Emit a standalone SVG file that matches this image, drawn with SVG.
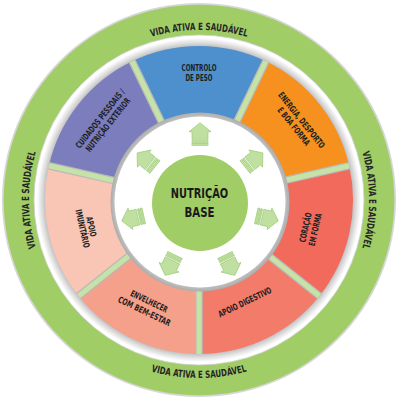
<svg xmlns="http://www.w3.org/2000/svg" xmlns:xlink="http://www.w3.org/1999/xlink" width="400" height="401" viewBox="0 0 400 401">
<style>
.lbl{font-family:'DejaVu Sans Condensed','DejaVu Sans','Liberation Sans',sans-serif;font-stretch:condensed;font-weight:bold;font-size:8.8px;fill:#1e1e1e;text-anchor:middle}
.ring{font-family:'DejaVu Sans Condensed','DejaVu Sans','Liberation Sans',sans-serif;font-stretch:condensed;font-weight:bold;font-size:10px;fill:#262626;text-anchor:middle}
.ctr{font-family:'DejaVu Sans Condensed','DejaVu Sans','Liberation Sans',sans-serif;font-stretch:condensed;font-weight:bold;font-size:13.5px;fill:#1a1a1a;text-anchor:middle}
.sep{stroke:#b9b9b9;stroke-width:7.5;fill:none}
.sepi{stroke:#c6e3a7;stroke-width:5;fill:none}
.arw{fill:#bfe0a0;stroke:#9dca76;stroke-width:0.7}
</style>
<defs>
<radialGradient id="shadowOut" gradientUnits="userSpaceOnUse" cx="199" cy="200" r="162">
<stop offset="0.93" stop-color="#a8a8a8"/>
<stop offset="0.97" stop-color="#dcdcdc"/>
<stop offset="1" stop-color="#ffffff"/>
</radialGradient>
<radialGradient id="shadowIn" gradientUnits="userSpaceOnUse" cx="200" cy="202" r="90">
<stop offset="0.93" stop-color="#c9c9c9"/>
<stop offset="1" stop-color="#a9a9a9"/>
</radialGradient>
<path id="cw" d="M199,370 A170,170 0 1 1 199,30 A170,170 0 1 1 199,370"/>
<path id="ccw" d="M199,22 A178,178 0 1 0 199,378 A178,178 0 1 0 199,22"/>
<g id="arr">
<path class="arw" d="M192,139.3 L192,131.7 L189,131.7 L200,122.7 L211,131.7 L208,131.7 L208,139.3 Z"/>
<rect class="arw" x="192" y="140.7" width="16" height="1.6"/>
<rect class="arw" x="192" y="143.3" width="16" height="2"/>
</g>
</defs>
<rect width="400" height="401" fill="#ffffff"/>
<g id="outer-ring">
<circle cx="199" cy="200" r="197" fill="#d6d6d6"/>
<circle cx="199" cy="200" r="195.3" fill="#a1cd67"/>
<circle cx="199" cy="200" r="165" fill="#ffffff" stroke="#d0d0d0" stroke-width="0.8"/>
<circle cx="199" cy="200" r="162" fill="url(#shadowOut)"/>
<text class="ring"><textPath xlink:href="#cw" href="#cw" startOffset="50%" textLength="97" lengthAdjust="spacingAndGlyphs">VIDA ATIVA E SAUDÁVEL</textPath></text>
<text class="ring"><textPath xlink:href="#cw" href="#cw" startOffset="75%" textLength="97" lengthAdjust="spacingAndGlyphs">VIDA ATIVA E SAUDÁVEL</textPath></text>
<text class="ring"><textPath xlink:href="#cw" href="#cw" startOffset="25%" textLength="97" lengthAdjust="spacingAndGlyphs">VIDA ATIVA E SAUDÁVEL</textPath></text>
<text class="ring"><textPath xlink:href="#ccw" href="#ccw" startOffset="50%" textLength="97" lengthAdjust="spacingAndGlyphs">VIDA ATIVA E SAUDÁVEL</textPath></text>
</g>
<g id="controlo-peso">
<path fill="#4d90cd" d="M164.29,127.92 L132.18,61.25 A154,154 0 0 1 265.82,61.25 L233.71,127.92 A80,80 0 0 0 164.29,127.92 Z"/>
<text class="lbl" x="199" y="70.7" textLength="35" lengthAdjust="spacingAndGlyphs">CONTROLO</text>
<text class="lbl" x="199" y="80.7" textLength="27" lengthAdjust="spacingAndGlyphs">DE PESO</text>
</g>
<g id="energia">
<path fill="#f6901e" d="M233.71,127.92 L265.82,61.25 A154,154 0 0 1 349.13,165.73 L276.99,182.20 A80,80 0 0 0 233.71,127.92 Z"/>
<g transform="rotate(51.43 199 200)">
<text class="lbl" x="200.5" y="73" textLength="69" lengthAdjust="spacingAndGlyphs">ENERGIA, DESPORTO</text>
<text class="lbl" x="200.5" y="83" textLength="46" lengthAdjust="spacingAndGlyphs">E BOA FORMA</text>
</g>
</g>
<g id="coracao">
<path fill="#f26a5c" d="M276.99,182.20 L349.13,165.73 A154,154 0 0 1 319.40,296.02 L261.54,249.88 A80,80 0 0 0 276.99,182.20 Z"/>
<g transform="rotate(-77.14 199 200)">
<text class="lbl" x="196" y="313" textLength="30" lengthAdjust="spacingAndGlyphs">CORAÇÃO</text>
<text class="lbl" x="196" y="323" textLength="33" lengthAdjust="spacingAndGlyphs">EM FORMA</text>
</g>
</g>
<g id="apoio-digestivo">
<path fill="#f27b6a" d="M261.54,249.88 L319.40,296.02 A154,154 0 0 1 199,354 L199,280 A80,80 0 0 0 261.54,249.88 Z"/>
<g transform="rotate(-25.71 199 200)">
<text class="lbl" x="196" y="315" textLength="58" lengthAdjust="spacingAndGlyphs">APOIO DIGESTIVO</text>
</g>
</g>
<g id="envelhecer">
<path fill="#f4a08b" d="M199,280 L199,354 A154,154 0 0 1 78.60,296.02 L136.46,249.88 A80,80 0 0 0 199,280 Z"/>
<g transform="rotate(25.71 199 200)">
<text class="lbl" x="198" y="316" textLength="40" lengthAdjust="spacingAndGlyphs">ENVELHECER</text>
<text class="lbl" x="198" y="327" textLength="57" lengthAdjust="spacingAndGlyphs">COM BEM-ESTAR</text>
</g>
</g>
<g id="apoio-imunitario">
<path fill="#f9c5b4" d="M136.46,249.88 L78.60,296.02 A154,154 0 0 1 48.87,165.73 L121.01,182.20 A80,80 0 0 0 136.46,249.88 Z"/>
<g transform="rotate(77.14 199 200)">
<text class="lbl" x="201" y="314" textLength="20" lengthAdjust="spacingAndGlyphs">APOIO</text>
<text class="lbl" x="201" y="323" textLength="39" lengthAdjust="spacingAndGlyphs">IMUNITÁRIO</text>
</g>
</g>
<g id="cuidados-pessoais">
<path fill="#7b7dbd" d="M121.01,182.20 L48.87,165.73 A154,154 0 0 1 132.18,61.25 L164.29,127.92 A80,80 0 0 0 121.01,182.20 Z"/>
<g transform="rotate(-51.43 199 200)">
<text class="lbl" x="201" y="75" textLength="73" lengthAdjust="spacingAndGlyphs">CUIDADOS PESSOAIS /</text>
<text class="lbl" x="201" y="85" textLength="66" lengthAdjust="spacingAndGlyphs">NUTRIÇÃO EXTERIOR</text>
</g>
</g>
<g id="separators">
<path class="sep" d="M233.71,127.92 L265.82,61.25 M276.99,182.20 L349.13,165.73 M261.54,249.88 L319.40,296.02 M199,280 L199,354 M136.46,249.88 L78.60,296.02 M121.01,182.20 L48.87,165.73 M164.29,127.92 L132.18,61.25"/>
<path class="sepi" d="M233.71,127.92 L265.82,61.25 M276.99,182.20 L349.13,165.73 M261.54,249.88 L319.40,296.02 M199,280 L199,354 M136.46,249.88 L78.60,296.02 M121.01,182.20 L48.87,165.73 M164.29,127.92 L132.18,61.25"/>
</g>
<g id="nutricao-base">
<circle cx="200" cy="202" r="89.5" fill="url(#shadowIn)"/>
<circle cx="200" cy="202" r="85.5" fill="#ffffff"/>
<circle cx="200" cy="203" r="48" fill="#a1cd67"/>
<text class="ctr" x="199.5" y="197.5" textLength="57.5" lengthAdjust="spacingAndGlyphs">NUTRIÇÃO</text>
<text class="ctr" x="199.5" y="216.5" textLength="30" lengthAdjust="spacingAndGlyphs">BASE</text>
</g>
<g id="connectors">
<use xlink:href="#arr" href="#arr"/>
<use xlink:href="#arr" href="#arr" transform="rotate(51.43 200 203)"/>
<use xlink:href="#arr" href="#arr" transform="rotate(102.86 200 203)"/>
<use xlink:href="#arr" href="#arr" transform="rotate(154.29 200 203)"/>
<use xlink:href="#arr" href="#arr" transform="rotate(205.71 200 203)"/>
<use xlink:href="#arr" href="#arr" transform="rotate(257.14 200 203)"/>
<use xlink:href="#arr" href="#arr" transform="rotate(308.57 200 203)"/>
</g>
</svg>
